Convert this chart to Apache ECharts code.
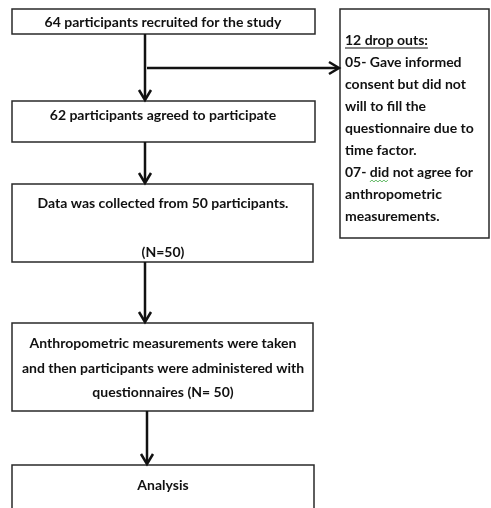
<!DOCTYPE html>
<html><head><meta charset="utf-8">
<script src="https://cdn.jsdelivr.net/npm/echarts@6/dist/echarts.min.js"></script>
<style>html,body{margin:0;padding:0;background:#fff}#c{width:491px;height:508px}</style>
</head><body><div id="c"></div>
<script>
// ---- content ----
const boxTexts = [
  ["64 participants recruited for the study"],
  ["62 participants agreed to participate"],
  ["Data was collected from 50 participants.", "(N=50)"],
  ["Anthropometric measurements were taken", "and then participants were administered with", "questionnaires (N= 50)"],
  ["Analysis"]
];
const dropTitle = "12 drop outs:";
const dropLines = ["05- Gave informed", "consent but did not", "will to fill the", "questionnaire due to",
  "time factor.", "07- did not agree for", "anthropometric", "measurements."];

// ---- layout (data units of a hidden 491x508 value grid) ----
const boxRects = [[12, 9, 315, 34], [12, 101, 315, 142], [12, 184, 313, 262], [12, 323, 313, 411], [12, 465, 314, 530]];
const boxLineY = [[22], [115], [203, 252], [343, 368, 392], [485]];
const textCx = 163;
const sideRect = [340, 9, 489, 238];
const sideX = 345, sideY0 = 40, sideStep = 22;
const arrows = [[145, 34, 145, 100], [147, 68, 339, 68], [145, 142, 145, 183], [145, 262, 145, 322], [147, 411, 147, 464]];

const FONT = 'bold 14px Lato';
const cv = document.createElement('canvas').getContext('2d');
cv.font = FONT;
const chart = echarts.init(document.getElementById('c'));

const textItems = [];
boxTexts.forEach((lines, i) => lines.forEach((t, j) => textItems.push([textCx, boxLineY[i][j], t, 'center'])));
textItems.push([sideX, sideY0, dropTitle, 'left']);
dropLines.forEach((t, k) => textItems.push([sideX, sideY0 + sideStep * (k + 1), t, 'left']));

chart.setOption({
  animation: false,
  grid: {left: 0, right: 0, top: 0, bottom: 0},
  xAxis: {type: 'value', min: 0, max: 491, show: false},
  yAxis: {type: 'value', min: 0, max: 508, inverse: true, show: false},
  series: [
    {
      type: 'custom', clip: false,
      data: boxRects.concat([sideRect]),
      encode: {x: [0, 2], y: [1, 3]},
      renderItem(params, api) {
        const p0 = api.coord([api.value(0), api.value(1)]);
        const p1 = api.coord([api.value(2), api.value(3)]);
        return {type: 'rect', shape: {x: p0[0], y: p0[1], width: p1[0] - p0[0], height: p1[1] - p0[1]},
          style: {fill: '#fff', stroke: '#2a2a2a', lineWidth: 1.5}};
      }
    },
    {
      type: 'custom', clip: false,
      data: arrows,
      encode: {x: [0, 2], y: [1, 3]},
      renderItem(params, api) {
        const p0 = api.coord([api.value(0), api.value(1)]);
        const p1 = api.coord([api.value(2), api.value(3)]);
        const ang = Math.atan2(p1[1] - p0[1], p1[0] - p0[0]);
        const L = 10, W = 6;
        const b = [p1[0] - L * Math.cos(ang), p1[1] - L * Math.sin(ang)];
        const l = [b[0] + W * Math.sin(ang), b[1] - W * Math.cos(ang)];
        const r = [b[0] - W * Math.sin(ang), b[1] + W * Math.cos(ang)];
        return {type: 'group', children: [
          {type: 'line', shape: {x1: p0[0], y1: p0[1], x2: p1[0] - Math.cos(ang), y2: p1[1] - Math.sin(ang)}, style: {stroke: '#111', lineWidth: 2.5}},
          {type: 'polyline', shape: {points: [l, p1, r]}, style: {stroke: '#111', lineWidth: 2.5, fill: null}}
        ]};
      }
    },
    {
      type: 'custom', clip: false,
      data: textItems.map(t => [t[0], t[1]]),
      renderItem(params, api) {
        const it = textItems[params.dataIndex];
        const p = api.coord([api.value(0), api.value(1)]);
        const children = [{type: 'text', style: {text: it[2], x: p[0], y: p[1], align: it[3], verticalAlign: 'middle', font: FONT, fill: '#111'}}];
        if (it[2] === dropTitle) {
          const w = cv.measureText(dropTitle).width;
          children.push({type: 'line', shape: {x1: p[0], y1: p[1] + 8, x2: p[0] + w, y2: p[1] + 8}, style: {stroke: '#111', lineWidth: 1.2}});
        }
        if (it[2].indexOf('07- did') === 0) {
          const x0 = p[0] + cv.measureText('07- ').width;
          const x1 = x0 + cv.measureText('did').width;
          const pts = [];
          let k = 0;
          for (let x = x0; x <= x1; x += 2, k++) pts.push([x, p[1] + 9 + (k % 2 ? -1 : 1)]);
          children.push({type: 'polyline', shape: {points: pts}, style: {stroke: '#4caf50', lineWidth: 0.9, fill: null}});
        }
        return {type: 'group', children};
      }
    }
  ]
});
</script>
</body></html>
